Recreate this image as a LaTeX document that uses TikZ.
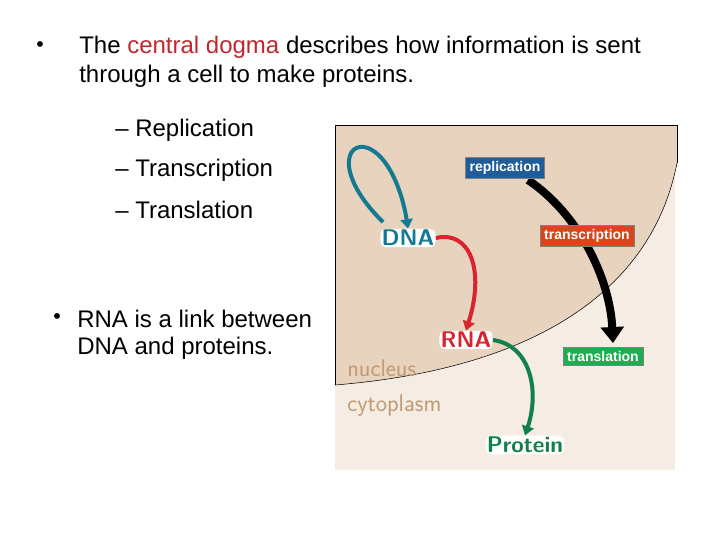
\documentclass[tikz,border=0pt]{standalone}
\usepackage{fontspec}
\setmainfont{Liberation Sans}
\usetikzlibrary{arrows.meta}
\definecolor{cyto}{HTML}{F5ECE3}
\definecolor{nuc}{HTML}{E8D3BE}
\definecolor{rbox}{HTML}{1F5C99}
\definecolor{tbox}{HTML}{D9461B}
\definecolor{lbox}{HTML}{1BB04F}
\definecolor{dnac}{HTML}{137A91}
\definecolor{rnac}{HTML}{D9232E}
\definecolor{protc}{HTML}{11804A}
\definecolor{labc}{HTML}{C09A74}
\definecolor{dogma}{HTML}{C0282D}
\tikzset{
 body/.style={anchor=west,font=\fontsize{18}{22}\selectfont,inner sep=0pt},
 sub/.style={anchor=west,font=\fontsize{18}{22}\selectfont,inner sep=0pt},
 tag/.style={font=\fontsize{10.5}{12}\selectfont\bfseries,text=white,draw=gray,inner sep=3pt,minimum height=13pt},
 mol/.style={font=\fontsize{17}{20}\selectfont\sffamily\bfseries,inner sep=1pt,fill=white,rounded corners=4pt},
 place/.style={font=\fontsize{18}{22}\selectfont\sffamily,text=labc,anchor=west,inner sep=0pt},
 flow/.style={line width=3pt,-{Triangle[length=7pt,width=9pt]}},
}
\begin{document}
\begin{tikzpicture}[x=0.75pt,y=-0.75pt]
\useasboundingbox (0,0) rectangle (720,540);
\fill[white] (0,0) rectangle (720,540);
% panel
\fill[cyto] (335,125) rectangle (675,470);
\fill[nuc] (335,125) -- (677,125) -- (677,163) .. controls (650,300) and (520,370) .. (335,385) -- cycle;
\draw[line width=0.5pt] (335,385) -- (335,125) -- (677,125) -- (677,163);
\draw[line width=0.4pt] (677,163) .. controls (650,300) and (520,370) .. (335,385);
% text
\node[anchor=center] (b1) at (40,47) {\fontsize{16}{18}\selectfont •};
\node[body] (t1) at (79,47) {The \textcolor{dogma}{central dogma} describes how information is sent};
\node[body] (t2) at (79,76) {through a cell to make proteins.};
\node[sub] (s1) at (115,130) {– Replication};
\node[sub] (s2) at (115,170) {– Transcription};
\node[sub] (s3) at (115,210) {– Translation};
\node[anchor=center] (b2) at (57,319) {\fontsize{16}{18}\selectfont •};
\node[body] (t3) at (77,319) {RNA is a link between};
\node[body] (t4) at (77,348) {DNA and proteins.};
% places
\node[place] (nucl) at (347,368) {nucleus};
\node[place] (cyt) at (347,406) {cytoplasm};
% arrows
\coordinate (bs) at (528,180);
\draw[line width=6pt,-{Triangle[length=12pt,width=17pt]}] (bs) .. controls (580,215) and (610,280) .. (613,343);
\node[mol,text=dnac] (dna) at (408,238) {DNA};
\node[mol,text=rnac] (rna) at (466,340) {RNA};
\node[mol,text=protc] (prot) at (525,445) {Protein};
\draw[flow,dnac] (383,222) .. controls (335,175) and (345,140) .. (368,148) .. controls (388,156) and (402,190) .. (dna.north);
\draw[flow,rnac] (dna.east) .. controls (470,230) and (485,270) .. (rna.north);
\draw[flow,protc] (rna.east) .. controls (530,345) and (540,390) .. (prot.north);
% tags
\node[tag,fill=rbox] (rep) at (505,168) {replication};
\node[tag,fill=tbox] (tra) at (587,236) {transcription};
\node[tag,fill=lbox] (trl) at (603,356) {translation};
\end{tikzpicture}
\end{document}
